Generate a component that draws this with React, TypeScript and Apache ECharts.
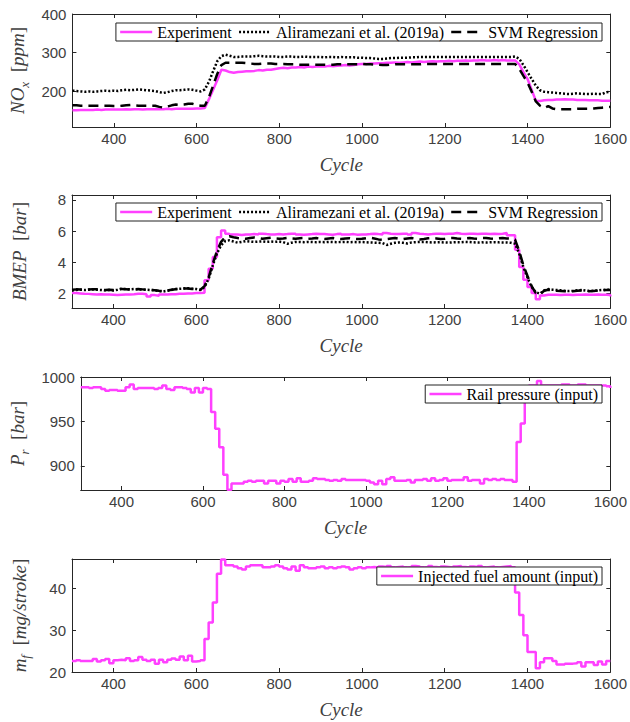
import React, { useEffect, useRef } from 'react';
import * as echarts from 'echarts';

const cycles = [
  300, 310, 320, 330, 340, 350, 360, 370, 380, 390,
  400, 410, 420, 430, 440, 450, 460, 470, 480, 490,
  500, 510, 520, 530, 540, 550, 560, 570, 580, 590,
  600, 610, 620, 630, 640, 650, 660, 670, 680, 690,
  700, 710, 720, 730, 740, 750, 760, 770, 780, 790,
  800, 810, 820, 830, 840, 850, 860, 870, 880, 890,
  900, 910, 920, 930, 940, 950, 960, 970, 980, 990,
  1000, 1010, 1020, 1030, 1040, 1050, 1060, 1070, 1080, 1090,
  1100, 1110, 1120, 1130, 1140, 1150, 1160, 1170, 1180, 1190,
  1200, 1210, 1220, 1230, 1240, 1250, 1260, 1270, 1280, 1290,
  1300, 1310, 1320, 1330, 1340, 1350, 1360, 1370, 1380, 1390,
  1400, 1410, 1420, 1430, 1440, 1450, 1460, 1470, 1480, 1490,
  1500, 1510, 1520, 1530, 1540, 1550, 1560, 1570, 1580, 1590, 1600,
];

const xTickLabels = ['400', '600', '800', '1000', '1200', '1400', '1600'];

const noxExperiment = [
  151, 151, 152, 152, 152, 152, 153, 152, 153, 153,
  153, 153, 153, 154, 153, 154, 154, 153, 154, 154,
  154, 154, 154, 155, 154, 155, 155, 155, 155, 155,
  156, 156, 157, 180, 204, 229, 256, 254, 250, 248,
  250, 251, 252, 252, 253, 255, 254, 256, 256, 258,
  260, 261, 260, 262, 262, 263, 262, 264, 263, 264,
  265, 264, 266, 265, 266, 267, 268, 267, 268, 270,
  271, 271, 272, 272, 273, 273, 274, 274, 275, 274,
  275, 276, 275, 276, 277, 276, 277, 278, 277, 278,
  278, 279, 278, 279, 279, 280, 279, 280, 280, 281,
  280, 280, 281, 280, 281, 280, 280, 280, 270, 250,
  232, 204, 176, 175, 177, 178, 178, 179, 179, 180,
  179, 179, 178, 178, 178, 177, 177, 177, 176, 176, 176,
];

const noxAliramezani = [
  202, 201, 200, 199, 200, 199, 200, 201, 202, 201,
  202, 201, 203, 204, 203, 204, 205, 204, 203, 202,
  201, 198, 196, 198, 201, 203, 203, 204, 205, 204,
  202, 200, 205, 225, 252, 278, 291, 295, 292, 289,
  289, 290, 290, 290, 291, 292, 291, 290, 290, 290,
  289, 289, 290, 290, 289, 289, 290, 289, 289, 289,
  289, 288, 289, 289, 288, 289, 288, 288, 288, 287,
  287, 286, 286, 285, 284, 284, 285, 286, 286, 287,
  287, 287, 288, 288, 289, 289, 289, 289, 289, 289,
  289, 289, 289, 289, 289, 289, 289, 289, 289, 289,
  289, 289, 289, 289, 289, 289, 289, 290, 284, 268,
  250, 232, 215, 203, 199, 198, 197, 196, 195, 194,
  193, 194, 195, 194, 193, 193, 194, 193, 193, 198, 199,
];

const noxSvm = [
  164, 164, 163, 163, 163, 163, 163, 163, 163, 163,
  162, 162, 163, 164, 165, 164, 163, 163, 163, 163,
  163, 160, 158, 161, 164, 166, 165, 166, 168, 168,
  165, 163, 163, 185, 215, 245, 268, 274, 274, 274,
  274, 274, 273, 272, 271, 271, 272, 272, 272, 271,
  271, 271, 270, 270, 270, 269, 269, 269, 269, 269,
  269, 269, 269, 269, 270, 270, 270, 270, 270, 270,
  271, 270, 270, 269, 269, 268, 268, 269, 270, 270,
  270, 270, 270, 270, 270, 271, 271, 271, 271, 271,
  271, 271, 271, 271, 271, 271, 271, 271, 271, 271,
  271, 271, 271, 271, 271, 271, 271, 271, 258, 240,
  223, 199, 174, 163, 157, 162, 156, 154, 154, 154,
  154, 154, 155, 155, 155, 155, 156, 157, 158, 159, 160,
];

const bmepExperiment = [
  2.0, 1.98, 1.96, 1.95, 1.93, 1.91, 1.93, 1.91, 1.91, 1.89,
  1.87, 1.89, 1.91, 1.91, 1.93, 1.96, 1.96, 1.93, 1.78, 1.87,
  1.83, 1.91, 1.91, 1.93, 1.93, 1.96, 1.96, 1.98, 1.98, 2.0,
  2.0, 2.02, 2.82, 3.57, 4.32, 5.6, 6.04, 5.83, 5.78, 5.78,
  5.74, 5.78, 5.78, 5.8, 5.78, 5.83, 5.8, 5.78, 5.78, 5.8,
  5.78, 5.8, 5.83, 5.83, 5.78, 5.76, 5.78, 5.8, 5.83, 5.8,
  5.8, 5.78, 5.76, 5.8, 5.83, 5.78, 5.78, 5.8, 5.76, 5.78,
  5.78, 5.8, 5.83, 5.8, 5.78, 5.87, 5.83, 5.8, 5.8, 5.83,
  5.83, 5.78, 5.87, 5.83, 5.8, 5.78, 5.8, 5.83, 5.83, 5.8,
  5.83, 5.83, 5.87, 5.83, 5.8, 5.83, 5.83, 5.8, 5.83, 5.83,
  5.8, 5.83, 5.8, 5.83, 5.87, 5.72, 5.72, 4.8, 3.68, 2.86,
  2.39, 2.0, 1.61, 1.85, 1.89, 1.89, 1.89, 1.87, 1.89, 1.89,
  1.87, 1.89, 1.89, 1.91, 1.89, 1.89, 1.91, 1.89, 1.89, 1.87, 1.78,
];

const bmepAliramezani = [
  2.17, 2.2, 2.22, 2.2, 2.22, 2.24, 2.22, 2.2, 2.18, 2.2,
  2.17, 2.22, 2.28, 2.26, 2.24, 2.26, 2.24, 2.22, 2.22, 2.2,
  2.17, 2.13, 2.1, 2.15, 2.2, 2.26, 2.28, 2.3, 2.32, 2.28,
  2.26, 2.2, 2.39, 2.92, 3.78, 4.54, 5.08, 5.35, 5.4, 5.32,
  5.25, 5.3, 5.35, 5.32, 5.3, 5.32, 5.33, 5.3, 5.32, 5.3,
  5.32, 5.28, 5.18, 5.25, 5.3, 5.3, 5.28, 5.3, 5.29, 5.28,
  5.29, 5.28, 5.3, 5.29, 5.28, 5.29, 5.3, 5.28, 5.29, 5.28,
  5.29, 5.28, 5.26, 5.25, 5.24, 5.22, 5.1, 5.18, 5.24, 5.26,
  5.24, 5.2, 5.26, 5.28, 5.29, 5.3, 5.28, 5.26, 5.27, 5.28,
  5.26, 5.25, 5.27, 5.28, 5.28, 5.3, 5.29, 5.27, 5.26, 5.27,
  5.26, 5.27, 5.28, 5.27, 5.26, 5.26, 5.24, 5.18, 4.54, 3.68,
  3.0, 2.39, 2.06, 1.96, 2.17, 2.26, 2.22, 2.2, 2.18, 2.15,
  2.13, 2.15, 2.18, 2.2, 2.16, 2.13, 2.15, 2.18, 2.2, 2.21, 2.22,
];

const bmepSvm = [
  2.22, 2.24, 2.23, 2.21, 2.23, 2.25, 2.24, 2.22, 2.2, 2.22,
  2.2, 2.24, 2.27, 2.25, 2.23, 2.25, 2.26, 2.24, 2.22, 2.21,
  2.19, 2.15, 2.12, 2.16, 2.21, 2.25, 2.27, 2.29, 2.3, 2.27,
  2.25, 2.22, 2.45, 3.0, 3.9, 4.7, 5.3, 5.6, 5.66, 5.6,
  5.55, 5.52, 5.5, 5.55, 5.58, 5.55, 5.5, 5.53, 5.56, 5.52,
  5.5, 5.52, 5.55, 5.52, 5.5, 5.54, 5.55, 5.5, 5.52, 5.55,
  5.5, 5.48, 5.52, 5.55, 5.5, 5.48, 5.52, 5.54, 5.5, 5.48,
  5.5, 5.54, 5.56, 5.52, 5.46, 5.44, 5.48, 5.52, 5.55, 5.5,
  5.48, 5.52, 5.55, 5.5, 5.46, 5.48, 5.53, 5.55, 5.52, 5.48,
  5.5, 5.54, 5.55, 5.52, 5.5, 5.53, 5.55, 5.52, 5.5, 5.54,
  5.55, 5.52, 5.5, 5.53, 5.55, 5.52, 5.5, 5.45, 4.7, 3.8,
  3.1, 2.45, 2.0, 1.9, 2.15, 2.22, 2.18, 2.15, 2.14, 2.12,
  2.1, 2.12, 2.15, 2.17, 2.14, 2.12, 2.14, 2.16, 2.18, 2.2, 2.2,
];

const railPressure = [
  989, 989, 988, 989, 989, 987, 985, 986, 986, 985,
  985, 989, 992, 987, 988, 988, 988, 988, 987, 988,
  991, 987, 986, 989, 989, 988, 987, 983, 988, 983,
  988, 987, 961, 942, 921, 890, 873, 880, 880, 880,
  882, 883, 882, 883, 883, 880, 883, 883, 880, 883,
  882, 885, 882, 886, 882, 882, 883, 886, 885, 885,
  884, 883, 884, 883, 885, 884, 884, 884, 884, 884,
  883, 881, 879, 883, 879, 885, 887, 883, 883, 883,
  884, 881, 884, 884, 885, 883, 886, 883, 884, 886,
  883, 884, 884, 884, 887, 883, 884, 884, 880, 885,
  884, 885, 884, 885, 884, 884, 882, 927, 948, 990,
  991, 991, 996, 991, 991, 991, 991, 991, 992, 992,
  991, 991, 992, 992, 991, 991, 991, 991, 991, 990, 988,
];

const fuelAmount = [
  22.6, 22.8, 22.6, 22.6, 22.6, 23.1, 22.5, 22.8, 23.1, 22.1,
  22.8, 22.9, 22.8, 23.3, 22.6, 22.8, 23.6, 22.9, 22.6, 22.9,
  22.0, 22.9, 22.3, 22.9, 23.2, 22.9, 23.7, 22.8, 23.9, 22.5,
  22.6, 22.8, 27.9, 31.8, 36.6, 43.5, 46.9, 45.5, 45.5, 45.2,
  44.8, 44.5, 45.2, 45.5, 45.5, 45.5, 45.0, 45.0, 45.2, 45.5,
  45.2, 44.8, 44.5, 45.2, 44.2, 45.5, 45.0, 44.8, 44.8, 45.0,
  45.2, 44.8, 45.0, 44.8, 45.0, 45.2, 45.0, 44.5, 44.8, 45.0,
  44.8, 45.0, 45.1, 45.0, 45.2, 45.1, 45.3, 45.0, 45.1, 45.2,
  45.0, 45.1, 45.3, 45.2, 45.0, 45.1, 45.3, 45.1, 45.0, 45.2,
  45.1, 45.0, 45.2, 45.3, 45.1, 45.0, 45.2, 45.1, 45.3, 45.0,
  45.1, 45.2, 45.0, 45.1, 45.2, 45.3, 45.0, 39.0, 33.6, 28.8,
  24.8, 24.8, 20.9, 22.3, 23.3, 23.3, 22.6, 21.8, 21.8, 22.0,
  22.0, 22.1, 22.3, 21.3, 22.3, 22.3, 21.7, 22.5, 21.8, 22.6, 22.5,
];

const legendTop = ['Experiment', 'Aliramezani et al. (2019a)', 'SVM Regression'];
const legendRail = ['Rail pressure (input)'];
const legendFuel = ['Injected fuel amount (input)'];

const MAGENTA = '#ff40ff';
const AXIS = '#262626';
const LABEL = '#404040';
const SERIF = "'Liberation Serif', 'Times New Roman', serif";
const SANS = "'Liberation Sans', Arial, Helvetica, sans-serif";

const pair = (vals: number[]) => cycles.map((c, i) => [c, vals[i]]);

const stepFormatter = (step: number) => (v: number) => {
  const r = v / step;
  return Math.abs(r - Math.round(r)) < 1e-6 ? String(Math.round(v * 100) / 100) : '';
};

const nameRich = {
  n: { fontFamily: SERIF, fontStyle: 'italic', fontSize: 19, color: LABEL, lineHeight: 26 },
  u: { fontFamily: SERIF, fontStyle: 'normal', fontSize: 19, color: LABEL, lineHeight: 26 },
  s: { fontFamily: SERIF, fontStyle: 'italic', fontSize: 13, color: LABEL, lineHeight: 13, verticalAlign: 'bottom' },
};

function buildOption() {
  const tops = [14, 195, 377, 559];
  const gridH = 113;
  const yConf = [
    { min: 108, max: 400, split: 3, step: 100, name: '{n|NO}{s|x}{u|  [}{n|ppm}{u|]}', gap: 40 },
    { min: 1.04, max: 8.32, split: 4, step: 2, name: '{n|BMEP}{u|  [}{n|bar}{u|]}', gap: 40 },
    { min: 872.6, max: 1000.6, split: 3, step: 50, name: '{n|P}{s|r}{u|  [}{n|bar}{u|]}', gap: 40 },
    { min: 20, max: 47, split: 3, step: 10, name: '{n|m}{s|f}{u|  [}{n|mg/stroke}{u|]}', gap: 40 },
  ];
  const grid = tops.map((t) => ({ left: 72, right: 19, top: t, height: gridH, containLabel: false }));
  const xAxis: any[] = [];
  const yAxis: any[] = [];
  tops.forEach((_, i) => {
    const baseX = {
      gridIndex: i,
      type: 'value',
      min: 300,
      max: 1600,
      splitNumber: 6,
      splitLine: { show: false },
      axisLine: { show: true, onZero: false, lineStyle: { color: AXIS, width: 1 } },
      axisTick: { show: true, inside: true, length: 4, lineStyle: { color: AXIS } },
    };
    xAxis.push({
      ...baseX,
      position: 'bottom',
      name: 'Cycle',
      nameLocation: 'middle',
      nameGap: 28,
      nameTextStyle: { fontFamily: SERIF, fontStyle: 'italic', fontSize: 19, color: LABEL },
      axisLabel: {
        show: true,
        margin: 4,
        fontFamily: SANS,
        fontSize: 15,
        color: LABEL,
        formatter: (v: number) => (xTickLabels.includes(String(v)) ? String(v) : ''),
      },
    });
    xAxis.push({ ...baseX, position: 'top', axisLabel: { show: false } });
    const c = yConf[i];
    const baseY = {
      gridIndex: i,
      type: 'value',
      min: c.min,
      max: c.max,
      splitNumber: c.split,
      splitLine: { show: false },
      axisLine: { show: true, onZero: false, lineStyle: { color: AXIS, width: 1 } },
      axisTick: { show: true, inside: true, length: 4, lineStyle: { color: AXIS } },
    };
    yAxis.push({
      ...baseY,
      position: 'left',
      name: c.name,
      nameLocation: 'middle',
      nameRotate: 90,
      nameGap: c.gap,
      nameTextStyle: { rich: nameRich },
      axisLabel: {
        show: true,
        margin: 6,
        fontFamily: SANS,
        fontSize: 15,
        color: LABEL,
        formatter: stepFormatter(c.step),
      },
    });
    yAxis.push({ ...baseY, position: 'right', axisLabel: { show: false } });
  });

  const mk = (name: string, vals: number[], panel: number, style: any, step?: any) => ({
    type: 'line',
    name,
    xAxisIndex: panel * 2,
    yAxisIndex: panel * 2,
    data: pair(vals),
    symbol: 'none',
    showSymbol: false,
    step: step || false,
    lineStyle: style,
    itemStyle: { color: style.color },
    z: 2,
  });

  const magStyle = { color: MAGENTA, width: 2.5, type: 'solid' };
  const dotStyle = { color: '#000', width: 2.5, type: [2, 2] };
  const dashStyle = { color: '#000', width: 2.5, type: [10, 6] };

  const series = [
    mk(legendTop[0], noxExperiment, 0, magStyle),
    mk(legendTop[1], noxAliramezani, 0, dotStyle),
    mk(legendTop[2], noxSvm, 0, dashStyle),
    mk(legendTop[0], bmepExperiment, 1, magStyle, 'end'),
    mk(legendTop[1], bmepAliramezani, 1, dotStyle),
    mk(legendTop[2], bmepSvm, 1, dashStyle),
    mk(legendRail[0], railPressure, 2, magStyle, 'end'),
    mk(legendFuel[0], fuelAmount, 3, magStyle, 'end'),
  ];

  const legendBase = {
    orient: 'horizontal',
    right: 28,
    itemWidth: 32,
    itemHeight: 12,
    itemGap: 6,
    padding: [1, 4, 1, 3],
    borderColor: '#222',
    borderWidth: 1,
    borderRadius: 0,
    backgroundColor: '#fff',
    selectedMode: false,
    itemStyle: { opacity: 0, color: 'rgba(0,0,0,0)', borderWidth: 0 },
    lineStyle: { width: 2.5 },
    textStyle: { fontFamily: SERIF, fontSize: 16, color: '#000' },
  };
  const legend = [
    { ...legendBase, top: 23, data: legendTop },
    { ...legendBase, top: 203, data: legendTop },
    { ...legendBase, top: 385, data: legendRail },
    { ...legendBase, top: 567, data: legendFuel },
  ];

  return {
    animation: false,
    backgroundColor: '#fff',
    grid,
    xAxis,
    yAxis,
    legend,
    series,
  };
}

export default function App() {
  const ref = useRef<HTMLDivElement>(null);
  useEffect(() => {
    if (!ref.current) return;
    const chart = echarts.init(ref.current, null, { renderer: 'svg' });
    chart.setOption(buildOption() as any);
    return () => chart.dispose();
  }, []);
  return (
    <div
      ref={ref}
      style={{ position: 'absolute', left: 0, top: 0, width: 630, height: 722, background: '#fff' }}
    />
  );
}
